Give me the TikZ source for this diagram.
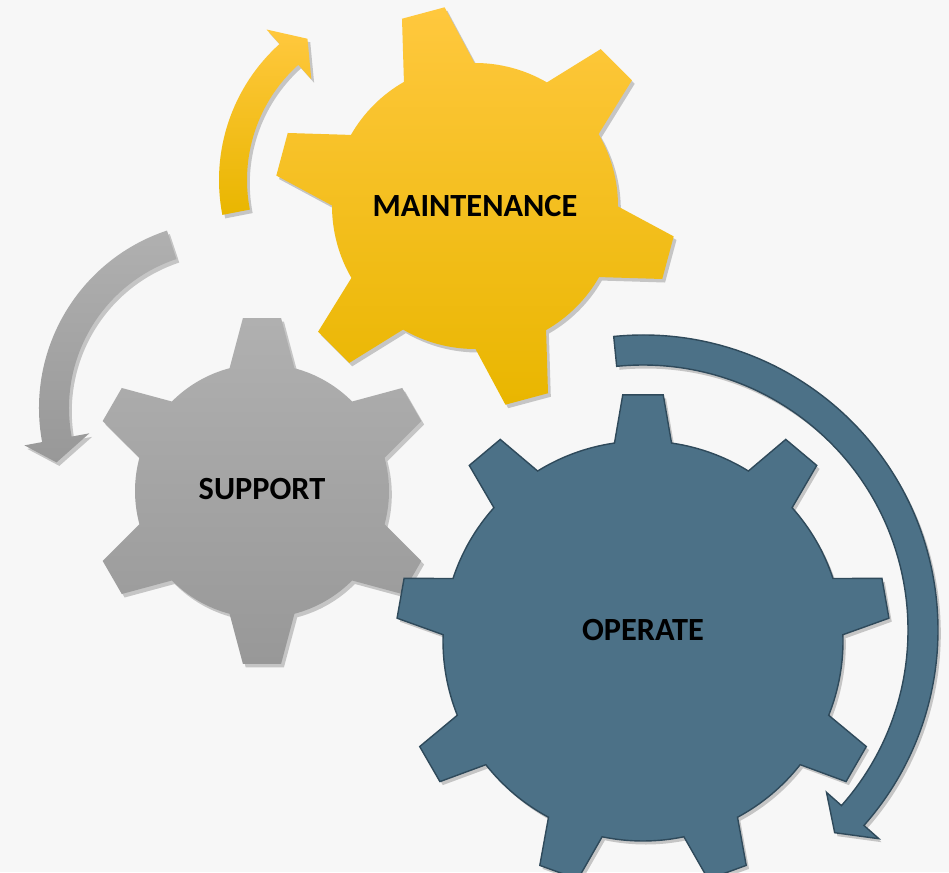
\documentclass[tikz,border=0pt]{standalone}
\usepackage{fontspec}
\setmainfont{Carlito}
\usepackage{tikz}
\usetikzlibrary{shadows}

\definecolor{bgpaper}{HTML}{F7F7F7}
\definecolor{yellowtop}{HTML}{FFC83E}
\definecolor{yellowmid}{HTML}{FFC400}
\definecolor{yellowbot}{HTML}{E9B600}
\definecolor{greytop}{HTML}{B0B0B0}
\definecolor{greybot}{HTML}{989898}
\definecolor{operblue}{HTML}{4C7187}
\definecolor{operline}{HTML}{2F4A5B}

% gear outline: style, centre, first tooth, teeth, inner r, outer r, base half angle, tip half angle
\newcommand{\gearshape}[8]{%
  \path[#1, shift={#2}] (#3-#7:#5)
    \foreach \k [evaluate=\k as \a using #3+(\k-1)*360/#4] in {1,...,#4}{
      -- (\a-#7:#5) -- (\a-#8:#6) -- (\a+#8:#6) -- (\a+#7:#5)
      arc[start angle=\a+#7, end angle=\a+360/#4-#7, radius=#5]
    } -- cycle;}

% bent arrow: style, centre, start, end, tip angle, inner r, outer r, head half width, tip r
\newcommand{\bentarrow}[9]{%
  \path[#1, shift={#2}] (#3:#7) arc[start angle=#3, end angle=#4, radius=#7]
    -- (#4:{(#6+#7)/2+#8}) -- (#5:#9) -- (#4:{(#6+#7)/2-#8}) -- (#4:#6)
    arc[start angle=#4, end angle=#3, radius=#6] -- cycle;}

\begin{document}
\begin{tikzpicture}[x=0.02cm, y=0.02cm,
    shadowed/.style={drop shadow={shadow xshift=1.6pt, shadow yshift=-2pt,
        opacity=0.2, fill=black}},
    yellowpart/.style={shadowed, top color=yellowtop, middle color=yellowmid,
        bottom color=yellowbot},
    greypart/.style={shadowed, top color=greytop, bottom color=greybot},
    bluepart/.style={shadowed, fill=operblue, draw=operline, line width=0.8pt},
    gearlabel/.style={font=\fontsize{18.4}{22}\selectfont\bfseries, text=black}
  ]
  \useasboundingbox (0,0) rectangle (949,872);
  \clip (0,0) rectangle (949,872);
  \fill[bgpaper] (0,0) rectangle (949,872);

  \bentarrow{yellowpart}{(402,692)}{191}{132}{123.8}{155}{183}{33.5}{170}
  \bentarrow{greypart}{(226,464)}{108.4}{190.5}{197.8}{157}{187}{33}{178}

  \gearshape{yellowpart}{(475,666)}{45}{6}{143}{201}{14.8}{6.3}
  \gearshape{greypart}{(262,381)}{30}{6}{127}{174}{14.8}{6.3}
  \gearshape{bluepart}{(643,231)}{90}{9}{200}{247}{8.2}{4.7}

  \bentarrow{bluepart}{(643,242)}{95.7}{-41.5}{-46.6}{265}{295}{35}{279}

  \node[gearlabel] (maintenance) at (475,666) {MAINTENANCE};
  \node[gearlabel] (support) at (262,383) {SUPPORT};
  \node[gearlabel] (operate) at (643,242) {OPERATE};
\end{tikzpicture}
\end{document}
